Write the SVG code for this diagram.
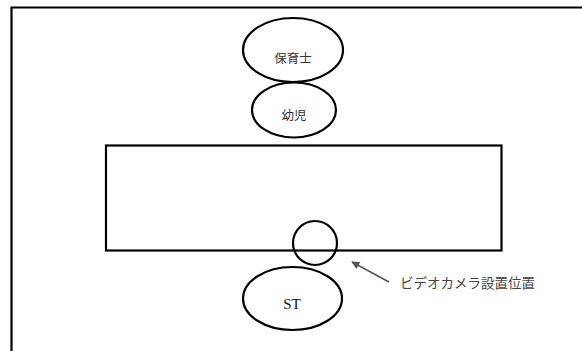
<svg xmlns="http://www.w3.org/2000/svg" width="582" height="351" viewBox="0 0 582 351">
<style>
.ln{fill:none;stroke:#000;stroke-width:2.2}
.jp{font-family:"Noto Sans CJK JP","Noto Sans CJK SC",sans-serif;font-size:12.5px;fill:#333;text-anchor:middle}
.lbl{font-family:"Noto Sans CJK JP",sans-serif;font-size:13.5px;fill:#444}
.st{font-family:"Liberation Serif",serif;font-size:15px;fill:#111;text-anchor:middle}
</style>
<defs>
<marker id="ah" viewBox="0 0 10 10" refX="9" refY="5" markerWidth="10" markerHeight="8" markerUnits="userSpaceOnUse" orient="auto">
<path d="M0,0 L10,5 L0,10 z" fill="#555"/>
</marker>
</defs>
<rect width="582" height="351" fill="#fff"/>
<g id="frame"><path class="ln" d="M11.5,360 V7.5 H590"/></g>
<g id="room"><rect class="ln" x="106" y="145.5" width="395.5" height="105"/></g>
<g id="hoikushi"><ellipse class="ln" cx="293" cy="50" rx="50" ry="32"/><text class="jp" x="293" y="63">保育士</text></g>
<g id="youji"><ellipse class="ln" cx="294" cy="110" rx="42" ry="27.5"/><text class="jp" x="294" y="120">幼児</text></g>
<g id="camera"><circle class="ln" cx="315" cy="243" r="22"/></g>
<g id="st"><ellipse class="ln" cx="292.5" cy="298.5" rx="49.5" ry="31.5"/><text class="st" x="292" y="309">ST</text></g>
<g id="connectors"><line x1="389" y1="282" x2="352" y2="262" stroke="#555" stroke-width="1.5" marker-end="url(#ah)"/></g>
<g id="label"><text class="lbl" x="400" y="288">ビデオカメラ設置位置</text></g>
</svg>
